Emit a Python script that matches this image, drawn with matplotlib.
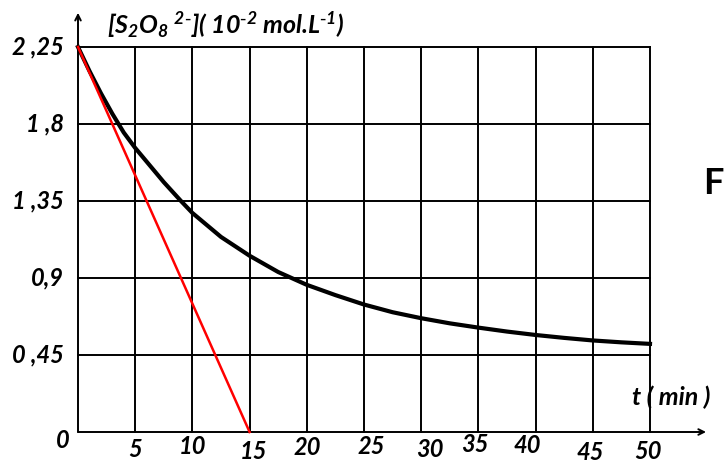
import matplotlib
matplotlib.use("Agg")
import matplotlib.pyplot as plt

plt.rcParams['font.family'] = ['Lato', 'DejaVu Sans']
plt.rcParams['mathtext.default'] = 'regular'

# data
t_curve = [0, 1, 2, 3, 4, 5, 6, 7.5, 9, 10, 12.5, 15, 17.5, 20, 22.5, 25,
           27.5, 30, 32.5, 35, 37.5, 40, 42.5, 45, 47.5, 50]
c_curve = [2.25, 2.11, 1.98, 1.86, 1.75, 1.66, 1.58, 1.46, 1.35, 1.28, 1.14,
           1.03, 0.935, 0.86, 0.80, 0.745, 0.70, 0.665, 0.635, 0.61, 0.587,
           0.567, 0.55, 0.535, 0.524, 0.515]
t_tangent = [0, 15]
c_tangent = [2.25, 0]

x_ticks = [5, 10, 15, 20, 25, 30, 35, 40, 45, 50]
x_tick_labels = ['5', '10', '15', '20', '25', '30', '35', '40', '45', '50']
x_label_dy = [-0.10, -0.085, -0.115, -0.09, -0.085, -0.10, -0.075, -0.08, -0.12, -0.115]
x_label_dx = [0, 0, 0.3, 0, 0.6, 0.8, -0.3, -0.7, -0.2, -0.2]
y_ticks = [0.45, 0.9, 1.35, 1.8, 2.25]
y_tick_labels = ['0 ,45', '0,9', '1 ,35', '1 ,8', '2 ,25']

W, H = 725, 463
fig = plt.figure(figsize=(W / 100, H / 100), dpi=100)
x0, x1, y0, y1 = 78, 650, 432, 47
ax = fig.add_axes([x0 / W, (H - y0) / H, (x1 - x0) / W, (y0 - y1) / H])
ax.set_xlim(0, 50)
ax.set_ylim(0, 2.25)
for s in ax.spines.values():
    s.set_visible(False)
ax.set_xticks([])
ax.set_yticks([])

# grid
for xv in x_ticks:
    ax.plot([xv, xv], [0, 2.25], color='black', lw=1.4, clip_on=False, zorder=1)
for yv in y_ticks:
    ax.plot([0, 50], [yv, yv], color='black', lw=1.4, clip_on=False, zorder=1)

# axes with arrows
ax.annotate('', xy=(54.9, 0), xytext=(0, 0),
            arrowprops=dict(arrowstyle='->', color='black', lw=1.4,
                            shrinkA=0, shrinkB=0), annotation_clip=False)
ax.annotate('', xy=(0, 2.45), xytext=(0, 0),
            arrowprops=dict(arrowstyle='->', color='black', lw=1.4,
                            shrinkA=0, shrinkB=0), annotation_clip=False)

# curves
ax.plot(t_curve, c_curve, color='black', lw=3.0, clip_on=False, zorder=3)
ax.plot(t_tangent, c_tangent, color='#ff0000', lw=1.8, clip_on=False, zorder=4)

fs = 17
fw = 'bold'
for xv, lab, dy, dx in zip(x_ticks, x_tick_labels, x_label_dy, x_label_dx):
    ax.text(xv + dx, dy, lab, ha='center', va='center', fontsize=fs,
            fontweight=fw, style='italic')
for yv, lab in zip(y_ticks, y_tick_labels):
    ax.text(-1.2, yv, lab, ha='right', va='center', fontsize=fs,
            fontweight=fw, style='italic')
ax.text(-0.7, -0.05, '0', ha='right', va='center', fontsize=fs,
        fontweight=fw, style='italic')

ax.text(2.5, 2.38, r'[S$_2$O$_8$ $^{2\text{-}}$]( 10$^{\text{-}2}$ mol.L$^{\text{-}1}$)',
        ha='left', va='center', fontsize=18, fontweight=fw, style='italic')
ax.text(48.4, 0.205, 't ( min )', ha='left', va='center', fontsize=18,
        fontweight=fw, style='italic')
fig.text(724 / W, 1 - 183 / H, 'F', ha='right', va='center', fontsize=26,
         fontweight='bold')

fig.savefig('out.png', dpi=100, facecolor='white')
